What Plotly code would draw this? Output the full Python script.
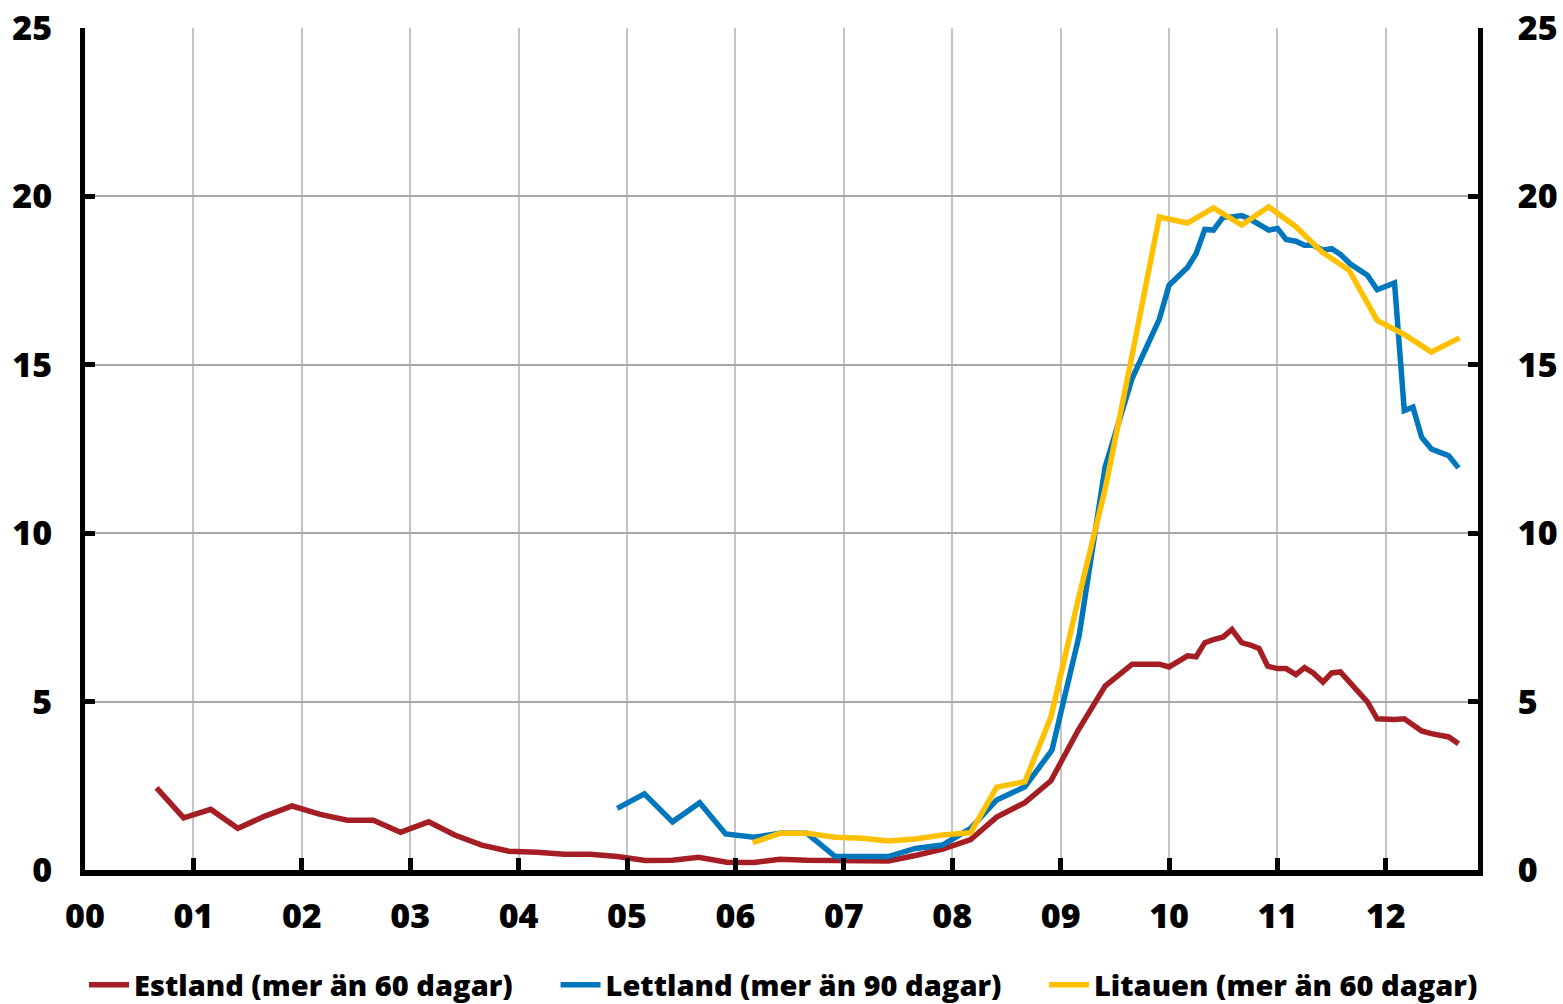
import plotly.graph_objects as go

# x values: years since 2000 (decimal)
est_x = [0.66, 0.91, 1.16, 1.41, 1.66, 1.91, 2.17, 2.42, 2.66, 2.91, 3.17, 3.41, 3.66, 3.91,
         4.17, 4.42, 4.66, 4.91, 5.17, 5.42, 5.66, 5.92, 6.17, 6.41, 6.66, 6.92, 7.17, 7.41,
         7.66, 7.92, 8.17, 8.41, 8.67, 8.91, 9.16, 9.41, 9.66, 9.91,
         10.0, 10.08, 10.17, 10.25, 10.33, 10.41, 10.5, 10.58, 10.67, 10.75, 10.83, 10.91,
         11.0, 11.08, 11.17, 11.25, 11.33, 11.42, 11.5, 11.58, 11.67, 11.75, 11.83, 11.92,
         12.0, 12.08, 12.17, 12.25, 12.33, 12.42, 12.5, 12.58, 12.67]
est_y = [2.44, 1.55, 1.80, 1.24, 1.60, 1.90, 1.65, 1.48, 1.48, 1.12, 1.43, 1.04, 0.74, 0.56,
         0.53, 0.47, 0.47, 0.40, 0.28, 0.29, 0.38, 0.23, 0.22, 0.32, 0.29, 0.27, 0.28, 0.27,
         0.43, 0.63, 0.90, 1.57, 2.00, 2.65, 4.14, 5.46, 6.11, 6.11,
         6.03, 6.20, 6.36, 6.33, 6.75, 6.84, 6.92, 7.14, 6.75, 6.68, 6.58, 6.05,
         5.98, 5.98, 5.80, 6.01, 5.85, 5.58, 5.85, 5.88, 5.58, 5.26, 4.99, 4.49,
         4.46, 4.47, 4.49, 4.30, 4.13, 4.05, 4.00, 3.95, 3.75]

lat_x = [4.91, 5.16, 5.42, 5.67, 5.91, 6.17, 6.41, 6.66, 6.92, 7.17, 7.41, 7.66, 7.91,
         8.17, 8.41, 8.67, 8.92, 9.17, 9.41, 9.66, 9.91,
         10.0, 10.08, 10.17, 10.25, 10.33, 10.41, 10.5, 10.58, 10.67, 10.75, 10.83, 10.92,
         11.0, 11.08, 11.17, 11.25, 11.33, 11.42, 11.5, 11.58, 11.67, 11.75, 11.83, 11.92,
         12.0, 12.08, 12.17, 12.25, 12.33, 12.42, 12.5, 12.58, 12.67]
lat_y = [1.83, 2.26, 1.43, 2.00, 1.07, 0.97, 1.09, 1.09, 0.40, 0.40, 0.40, 0.64, 0.74,
         1.24, 2.08, 2.47, 3.56, 6.95, 11.96, 14.60, 16.35,
         17.36, 17.61, 17.89, 18.30, 19.02, 19.00, 19.39, 19.39, 19.43, 19.32, 19.15, 19.00,
         19.05, 18.72, 18.67, 18.55, 18.55, 18.40, 18.45, 18.28, 18.00, 17.83, 17.66, 17.23,
         17.33, 17.43, 13.64, 13.74, 12.85, 12.50, 12.40, 12.30, 11.94]

lit_x = [6.16, 6.41, 6.66, 6.92, 7.17, 7.41, 7.66, 7.91, 8.17, 8.41, 8.67, 8.91, 9.16,
         9.41, 9.66, 9.91, 10.17, 10.41, 10.67, 10.92, 11.17, 11.41, 11.66, 11.92, 12.17,
         12.42, 12.68]
lit_y = [0.81, 1.09, 1.09, 0.97, 0.94, 0.86, 0.92, 1.04, 1.11, 2.46, 2.62, 4.54, 8.00,
         11.30, 15.30, 19.39, 19.21, 19.66, 19.15, 19.69, 19.10, 18.35, 17.81, 16.32, 15.90,
         15.38, 15.80]

names = ["Estland (mer än 60 dagar)", "Lettland (mer än 90 dagar)", "Litauen (mer än 60 dagar)"]
colors = ["#A51E23", "#0077BD", "#FFC000"]

x_tickvals = list(range(0, 13))
x_ticktext = ["00", "01", "02", "03", "04", "05", "06", "07", "08", "09", "10", "11", "12"]
y_tickvals = [0, 5, 10, 15, 20, 25]

FONT = "Open Sans"
W = 800

fig = go.Figure()
legend_ids = ["legend", "legend2", "legend3"]
for xs, ys, nm, col, lg in zip([est_x, lat_x, lit_x], [est_y, lat_y, lit_y], names, colors, legend_ids):
    fig.add_trace(go.Scatter(x=xs, y=ys, name=nm, mode="lines", legend=lg,
                             line=dict(color=col, width=5.5)))
# invisible trace to carry right axis
fig.add_trace(go.Scatter(x=[0], y=[0], yaxis="y2", showlegend=False, hoverinfo="skip",
                         mode="markers", marker=dict(opacity=0)))

tickfont = dict(family=FONT, size=34, color="black", weight=W)
legfont = dict(family=FONT, size=29, color="black", weight=W)

def leg(xpos):
    return dict(orientation="h", x=xpos, xanchor="left", y=-0.1365, yanchor="middle",
                font=legfont, itemwidth=40, bgcolor="rgba(0,0,0,0)", borderwidth=0)

fig.update_layout(
    width=1563, height=1004,
    margin=dict(l=85, r=85, t=28, b=134, autoexpand=False),
    paper_bgcolor="white", plot_bgcolor="white",
    font=dict(family=FONT, color="black"),
    xaxis=dict(range=[0, 12.85], tickvals=x_tickvals, ticktext=x_ticktext,
               showgrid=True, gridcolor="#C4C4C4", gridwidth=2,
               showline=True, linecolor="black", linewidth=6,
               ticks="inside", ticklen=12, tickwidth=5, tickcolor="black",
               tickfont=tickfont, ticklabelstandoff=11, zeroline=False, automargin=False,
               ticklabeloverflow="allow"),
    yaxis=dict(range=[0, 25], tickvals=y_tickvals,
               showgrid=True, gridcolor="#A8A8A8", gridwidth=2,
               showline=True, linecolor="black", linewidth=5,
               ticks="inside", ticklen=10, tickwidth=5, tickcolor="black",
               tickfont=tickfont, ticklabelstandoff=21, zeroline=False, automargin=False,
               ticklabeloverflow="allow"),
    yaxis2=dict(range=[0, 25], tickvals=y_tickvals, overlaying="y", side="right",
                showgrid=False, showline=True, linecolor="black", linewidth=5,
                ticks="inside", ticklen=10, tickwidth=5, tickcolor="black",
                tickfont=tickfont, ticklabelstandoff=28, zeroline=False, automargin=False,
                ticklabeloverflow="allow"),
    legend=leg(-0.0007),
    legend2=leg(0.3378),
    legend3=leg(0.6884),
    showlegend=True,
)

fig.write_html("out.html", config={"displayModeBar": False},
               post_script="document.body.style.margin='0';")
